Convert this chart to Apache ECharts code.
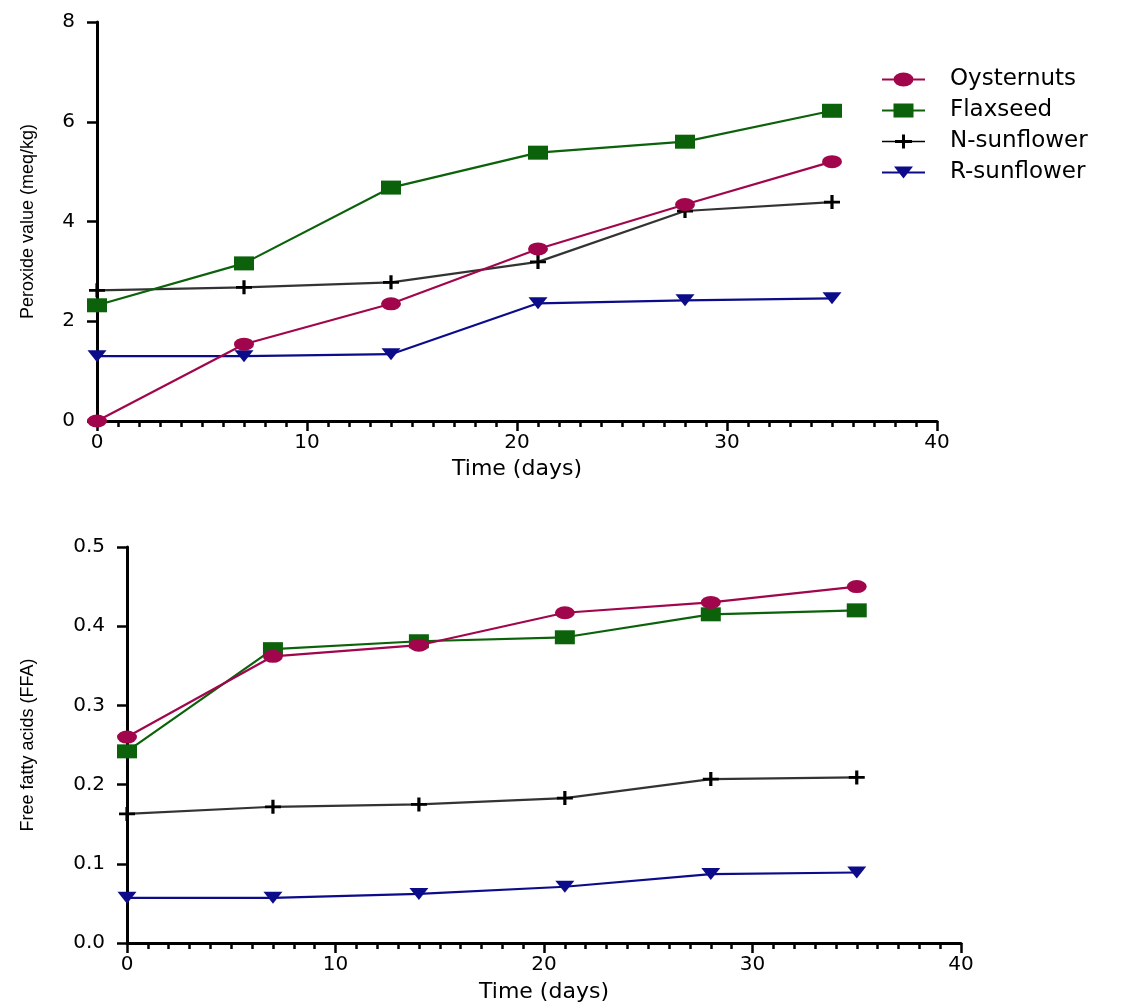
<html>
<head>
<meta charset="utf-8" />
<script src='https://cdn.jsdelivr.net/npm/echarts@6/dist/echarts.min.js'></script>
<style type="text/css">
	html, body, #main {
	width: 100%;
	height: 100%;
	margin: 0;
	background: #fff;
}
</style>
</head>
<body>

	<div id='main'></div>
	<script>
		var chart = echarts.init(document.getElementById('main'));

		// sampling days
		var days = [0, 7, 14, 21, 28, 35];
		var seriesNames = ['Oysternuts', 'Flaxseed', 'N-sunflower', 'R-sunflower'];

		// peroxide value (meq/kg)
		var pvOyster = [0.00, 1.54, 2.35, 3.45, 4.34, 5.20];
		var pvFlax   = [2.32, 3.16, 4.68, 5.38, 5.60, 6.22];
		var pvNsun   = [2.62, 2.68, 2.78, 3.19, 4.21, 4.39];
		var pvRsun   = [1.30, 1.30, 1.34, 2.36, 2.42, 2.46];

		// free fatty acids (FFA)
		var ffaOyster = [0.260, 0.362, 0.376, 0.417, 0.430, 0.450];
		var ffaFlax   = [0.242, 0.371, 0.381, 0.386, 0.415, 0.420];
		var ffaNsun   = [0.163, 0.172, 0.175, 0.183, 0.207, 0.209];
		var ffaRsun   = [0.057, 0.057, 0.062, 0.071, 0.087, 0.089];

		var colors = ['#A1064C', '#0B620B', '#000000', '#0C0C8A'];
		var lineColors = ['#A1064C', '#0B620B', '#333333', '#0C0C8A'];
		var symbols = [
			'path://M0,5A5,5 0 1 1 10,5A5,5 0 1 1 0,5Z',
			'rect',
			'path://M4,0h2v4h4v2h-4v4h-2v-4h-4v-2h4z',
			'path://M0,0L10,0L5,8Z'
		];
		var symbolSizes = [[20, 13], [20, 14], [16, 14], [19, 12]];

		// legend icons: line + marker, drawn in a 43x14 box
		var legendIcons = [
			'path://M0,6H43V8H0ZM11.5,7A10,7 0 1 1 31.5,7A10,7 0 1 1 11.5,7Z',
			'path://M0,6H43V8H0ZM11.5,0H31.5V14H11.5Z',
			'path://M0,6.25H43V7.75H0ZM20,0H23V14H20ZM13,5.5H30V8.5H13Z',
			'path://M0,6H43V8H0ZM12,1H31L21.5,13Z'
		];

		function pairs(ys) {
			return days.map(function(d, i) { return [d, ys[i]]; });
		}

		var font = 'DejaVu Sans';

		function xAxis(idx, gap) {
			return {
				type : 'value',
				gridIndex : idx,
				min : 0,
				max : 40,
				interval : 10,
				name : 'Time (days)',
				nameLocation : 'middle',
				nameGap : gap,
				nameTextStyle : { color : '#000', fontFamily : font, fontSize : 22 },
				axisLine : { show : true, lineStyle : { color : '#000', width : 3 } },
				axisTick : { show : true, length : 10, lineStyle : { color : '#000', width : 2.5 } },
				minorTick : { show : true, splitNumber : 10, length : 6, lineStyle : { color : '#000', width : 2.5 } },
				splitLine : { show : false },
				axisLabel : { color : '#000', fontFamily : font, fontSize : 20, margin : 12 }
			};
		}

		function yAxis(idx, max, step, title, gap, fmt) {
			return {
				type : 'value',
				gridIndex : idx,
				min : 0,
				max : max,
				interval : step,
				name : title,
				nameLocation : 'middle',
				nameGap : gap,
				nameTextStyle : { color : '#000', fontFamily : 'Liberation Sans', fontSize : 18 },
				axisLine : { show : true, lineStyle : { color : '#000', width : 3 } },
				axisTick : { show : true, length : 10, lineStyle : { color : '#000', width : 2.5 } },
				splitLine : { show : false },
				axisLabel : { color : '#000', fontFamily : font, fontSize : 20, margin : 22, formatter : fmt }
			};
		}

		var pvData = [pvOyster, pvFlax, pvNsun, pvRsun];
		var ffaData = [ffaOyster, ffaFlax, ffaNsun, ffaRsun];
		var series = [];
		[pvData, ffaData].forEach(function(group, g) {
			group.forEach(function(ys, i) {
				series.push({
					name : seriesNames[i],
					type : 'line',
					xAxisIndex : g,
					yAxisIndex : g,
					data : pairs(ys),
					symbol : symbols[i],
					symbolSize : symbolSizes[i],
					showAllSymbol : true,
					itemStyle : { color : colors[i] },
					lineStyle : { color : lineColors[i], width : 2.2 },
					z : 10 - i
				});
			});
		});

		var option = {
			animation : false,
			backgroundColor : '#fff',
			legend : {
				orient : 'vertical',
				left : 882,
				top : 68,
				itemWidth : 43,
				itemHeight : 14,
				itemGap : 8,
				padding : 0,
				data : seriesNames.map(function(n, i) { return { name : n, icon : legendIcons[i] }; }),
				textStyle : { color : '#000', fontFamily : font, fontSize : 23, padding : [0, 0, 0, 20] }
			},
			grid : [
				{ left : 97, top : 22, width : 840, height : 399, outerBoundsMode : 'none' },
				{ left : 127, top : 547, width : 834, height : 396, outerBoundsMode : 'none' }
			],
			xAxis : [ xAxis(0, 37), xAxis(1, 38) ],
			yAxis : [
				yAxis(0, 8, 2, 'Peroxide value (meq/kg)', 60),
				yAxis(1, 0.5, 0.1, 'Free fatty acids (FFA)', 90, function(v) { return v.toFixed(1); })
			],
			series : series
		};

		chart.setOption(option);

		window.onresize = function() {
			chart.resize();
		}
	</script>
</body>
</html>
